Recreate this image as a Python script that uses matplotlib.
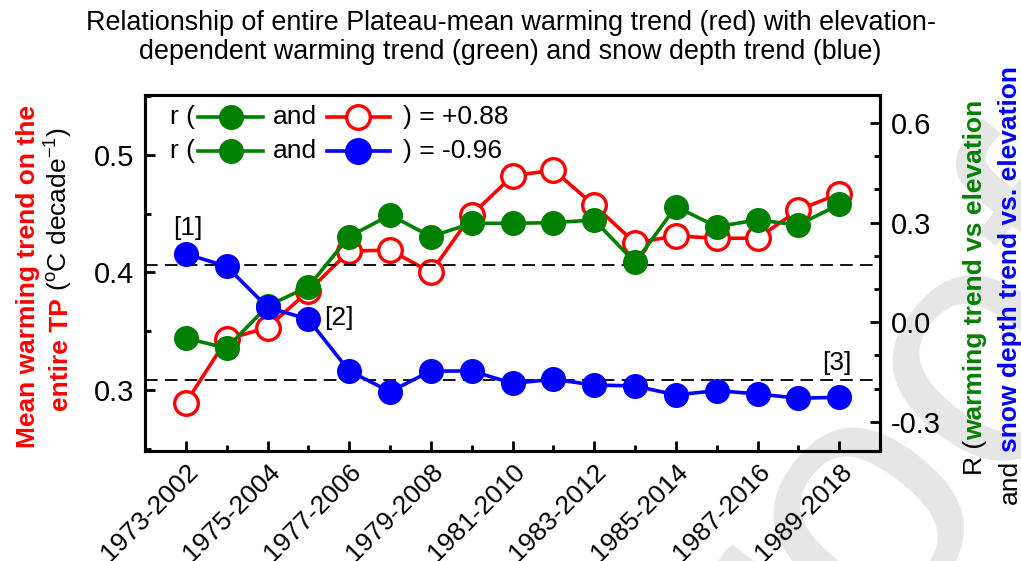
import matplotlib
matplotlib.use('Agg')
import matplotlib.pyplot as plt
from matplotlib.ticker import MultipleLocator, FixedLocator
from matplotlib.lines import Line2D
from matplotlib.transforms import IdentityTransform

plt.rcParams['font.family'] = ['Liberation Sans', 'DejaVu Sans']
plt.rcParams['mathtext.fontset'] = 'custom'
plt.rcParams['mathtext.rm'] = 'Liberation Sans'
plt.rcParams['mathtext.it'] = 'Liberation Sans:italic'
plt.rcParams['mathtext.bf'] = 'Liberation Sans:bold'

# 30-year moving windows
periods = ['1973-2002', '1974-2003', '1975-2004', '1976-2005', '1977-2006',
           '1978-2007', '1979-2008', '1980-2009', '1981-2010', '1982-2011',
           '1983-2012', '1984-2013', '1985-2014', '1986-2015', '1987-2016',
           '1988-2017', '1989-2018']

# plateau-mean warming trend (degC/decade), left axis
tp_warming = [0.289, 0.343, 0.353, 0.384, 0.418, 0.419, 0.400, 0.449, 0.482,
              0.487, 0.457, 0.425, 0.431, 0.429, 0.429, 0.453, 0.467]
# R(warming trend vs elevation), right axis
r_warming_elev = [-0.048, -0.078, 0.049, 0.107, 0.258, 0.323, 0.258, 0.298, 0.298,
                  0.300, 0.308, 0.180, 0.348, 0.288, 0.308, 0.293, 0.355]
# R(snow depth trend vs elevation), right axis
r_snow_elev = [0.206, 0.168, 0.045, 0.009, -0.147, -0.209, -0.147, -0.147, -0.184,
               -0.172, -0.189, -0.192, -0.219, -0.206, -0.216, -0.229, -0.226]
sig_level = 0.173

RED, GREEN, BLUE = '#ff0000', '#008000', '#0000ff'
LW, MS, MEW = 2.6, 17, 2.4

fig = plt.figure(figsize=(10.21, 5.61), dpi=100)
ax = fig.add_axes([0.142, 0.196, 0.720, 0.635])
ax.patch.set_alpha(0)
ax2 = ax.twinx()
ax2.patch.set_alpha(0)

x = list(range(len(periods)))

# watermark
fig.text(1.156, 0.513, 'Journal Pre-proof', fontsize=250, color='#e6e6e6',
         rotation=52, rotation_mode='anchor', ha='right', va='baseline', zorder=-10)

ax.plot(x, tp_warming, '-o', color=RED, lw=LW, ms=MS, mfc='white', mec=RED, mew=MEW,
        clip_on=False)
for s in (sig_level, -sig_level):
    ax2.axhline(s, color='black', lw=1.3, ls=(0, (7, 4)), zorder=1)
ax2.plot(x, r_warming_elev, '-o', color=GREEN, lw=LW, ms=MS, mfc=GREEN, mec=GREEN, zorder=3)
ax2.plot(x, r_snow_elev, '-o', color=BLUE, lw=LW, ms=MS, mfc=BLUE, mec=BLUE, zorder=4)

ax.set_xlim(-1, 17)
ax.set_ylim(0.248, 0.551)
ax2.set_ylim(-0.388, 0.685)

ax.xaxis.set_major_locator(FixedLocator(x[::2]))
ax.xaxis.set_minor_locator(FixedLocator(x[1::2]))
ax.set_xticklabels(periods[::2], rotation=45, ha='right', rotation_mode='anchor', fontsize=19)
ax.yaxis.set_minor_locator(MultipleLocator(0.05))
ax.set_yticks([0.3, 0.4, 0.5])
ax2.set_yticks([-0.3, 0.0, 0.3, 0.6])
ax2.yaxis.set_minor_locator(MultipleLocator(0.1))
ax2.set_yticklabels(['-0.3', '0.0', '0.3', '0.6'])

for a in (ax, ax2):
    for sp in a.spines.values():
        sp.set_linewidth(2.2)
    a.tick_params(which='both', direction='in', width=2.0)
    a.tick_params(which='major', length=7)
    a.tick_params(which='minor', length=4.5)
ax.tick_params(axis='y', labelsize=21, pad=8, right=False)
ax.tick_params(axis='x', top=False, pad=6)
ax2.tick_params(axis='y', labelsize=21, pad=8, left=False)

# in-axes legend rows
rows = [(0.939, RED, 'white', '+0.88'),
        (0.841, BLUE, BLUE, '-0.96')]
for y, col, fill, val in rows:
    ax2.text(0.034, y, 'r (', transform=ax2.transAxes, fontsize=19, va='center')
    ax2.add_line(Line2D([0.072, 0.161], [y, y], transform=ax2.transAxes, color=GREEN,
                        lw=LW, clip_on=False))
    ax2.add_line(Line2D([0.117], [y], transform=ax2.transAxes, marker='o', ms=MS,
                        color=GREEN, clip_on=False))
    ax2.text(0.174, y, 'and', transform=ax2.transAxes, fontsize=19, va='center')
    ax2.add_line(Line2D([0.248, 0.333], [y, y], transform=ax2.transAxes, color=col,
                        lw=LW, clip_on=False))
    ax2.add_line(Line2D([0.290], [y], transform=ax2.transAxes, marker='o', ms=MS,
                        color=col, mfc=fill, mec=col, mew=MEW, clip_on=False))
    ax2.text(0.351, y, ') = ' + val, transform=ax2.transAxes, fontsize=19, va='center')

ax2.text(0.05, 0.284, '[1]', fontsize=19, ha='center', va='center')
ax2.text(3.75, 0.013, '[2]', fontsize=19, ha='center', va='center')
ax2.text(15.95, -0.123, '[3]', fontsize=19, ha='center', va='center')

fig.text(0.5, 0.934, 'Relationship of entire Plateau-mean warming trend (red) with elevation-\n'
         'dependent warming trend (green) and snow depth trend (blue)',
         ha='center', va='center', fontsize=19.4, linespacing=1.15)


def stacked_label(xpix, ycenter, pieces, size):
    """rotated label made of differently styled pieces, reading bottom to top"""
    renderer = fig.canvas.get_renderer()
    em = size * fig.dpi / 72.0
    items = []
    for s, color, weight, gap in pieces:
        t = fig.text(0, 0, s, rotation=90, rotation_mode='anchor', ha='left',
                     va='baseline', color=color, fontweight=weight, fontsize=size,
                     transform=IdentityTransform())
        items.append((t, t.get_window_extent(renderer).height, gap * em))
    total = sum(h + g for _, h, g in items)
    y = ycenter - total / 2
    for t, h, g in items:
        y += g
        t.set_position((xpix, y))
        y += h


H = 561
stacked_label(35, H - 276, [('Mean warming trend on the', RED, 'bold', 0)], 19)
stacked_label(68, H - 269, [('entire TP', RED, 'bold', 0),
                            ('($^{\\rm o}$C decade$^{-1}$)', 'black', 'normal', 0.278)], 19)
stacked_label(982, H - 287, [('R (', 'black', 'normal', 0),
                             ('warming trend vs elevation', GREEN, 'bold', 0)], 19)
stacked_label(1017, H - 285, [('and', 'black', 'normal', 0),
                              ('snow depth trend vs. elevation', BLUE, 'bold', 0.278)], 19)

fig.savefig('out.png', dpi=100)
